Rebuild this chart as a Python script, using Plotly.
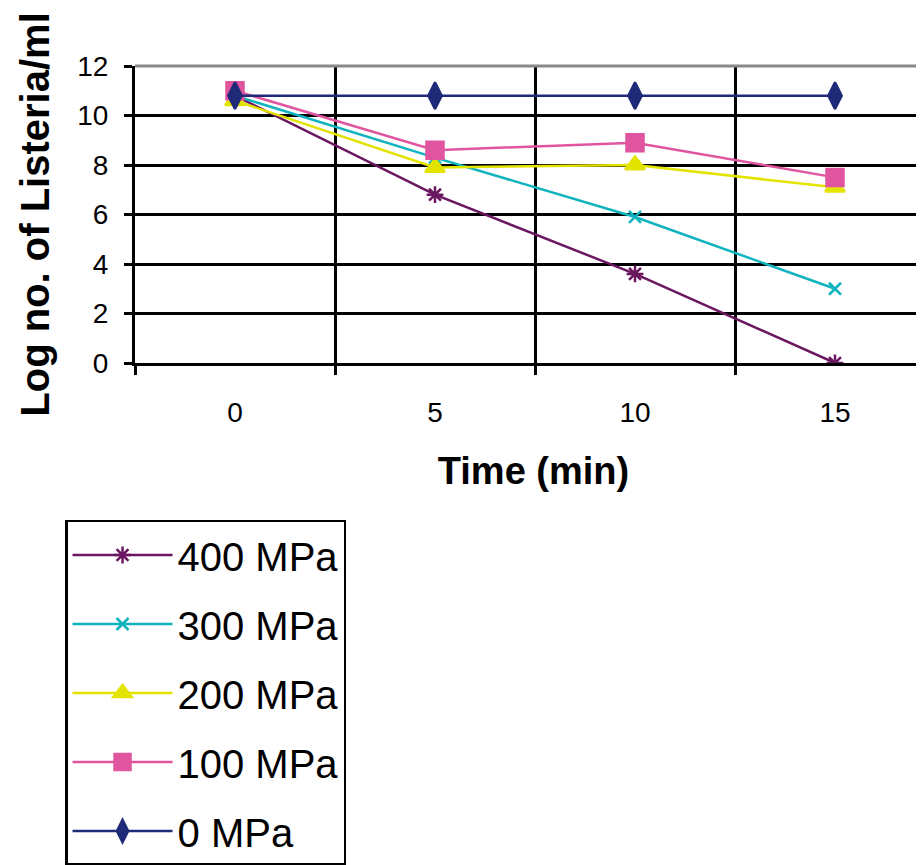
import plotly.graph_objects as go

times = ["0", "5", "10", "15"]
series_names = ["400 MPa", "300 MPa", "200 MPa", "100 MPa", "0 MPa"]
vals_400 = [10.8, 6.8, 3.6, 0.0]
vals_300 = [10.8, 8.3, 5.9, 3.0]
vals_200 = [10.6, 7.9, 8.0, 7.1]
vals_100 = [11.0, 8.6, 8.9, 7.5]
vals_0 = [10.8, 10.8, 10.8, 10.8]
y_ticks = [0, 2, 4, 6, 8, 10, 12]

colors = ["#6b1760", "#11b3be", "#e3e300", "#e0559f", "#1f2a78"]
symbols = ["asterisk-open", "x-thin-open", "triangle-up", "square", "diamond-tall"]
sizes = [14, 12, 17, 17, 19]
all_vals = [vals_400, vals_300, vals_200, vals_100, vals_0]

xpos = list(range(len(times)))

fig = go.Figure()
for name, vals, c, s, sz in zip(series_names, all_vals, colors, symbols, sizes):
    fig.add_trace(go.Scatter(
        x=xpos, y=vals, name=name, mode="lines+markers",
        line=dict(color=c, width=2.5),
        marker=dict(symbol=s, size=sz, color=c, line=dict(color=c, width=2.5)),
        legendgroup=name,
    ))

W, H = 924, 865
fig.update_layout(
    width=W, height=H,
    margin=dict(l=127, r=0, t=58, b=510),
    plot_bgcolor="white", paper_bgcolor="white",
    font=dict(family="Liberation Sans, Arial, sans-serif", color="black"),
    showlegend=True,
    legend=dict(
        x=-0.0878, y=-0.5286, xanchor="left", yanchor="top",
        bordercolor="black", borderwidth=2.5, bgcolor="white",
        font=dict(size=40, family="Liberation Sans, Arial, sans-serif"),
        tracegroupgap=14, itemwidth=100,
    ),
)
fig.update_xaxes(
    range=[-0.5, 3.485], automargin=False,
    tickmode="array", tickvals=xpos, ticktext=times,
    ticks="", showgrid=False,
    tickfont=dict(size=28),
    ticklabelstandoff=22,
    showline=True, linecolor="black", linewidth=3,
    minor=dict(tick0=0.5, dtick=1, ticks="outside", ticklen=9, tickwidth=3,
               tickcolor="black", showgrid=True, gridcolor="black", gridwidth=3),
    title=dict(text="<b>Time (min)</b>", font=dict(size=38), standoff=31),
    zeroline=False,
)
fig.update_yaxes(
    range=[0, 12], automargin=False,
    tickmode="array", tickvals=y_ticks,
    ticks="outside", ticklen=8, tickwidth=3, tickcolor="black",
    showgrid=True, gridcolor="black", gridwidth=3,
    tickfont=dict(size=28),
    ticklabelstandoff=10,
    showline=True, linecolor="black", linewidth=3,
    title=dict(text="<b>Log no. of Listeria/ml</b>", font=dict(size=40), standoff=16),
    zeroline=False,
)
fig.add_shape(type="line", xref="paper", yref="paper", x0=0, x1=1, y0=1, y1=1,
              line=dict(color="#888888", width=3))
fig.write_html("out.html")
